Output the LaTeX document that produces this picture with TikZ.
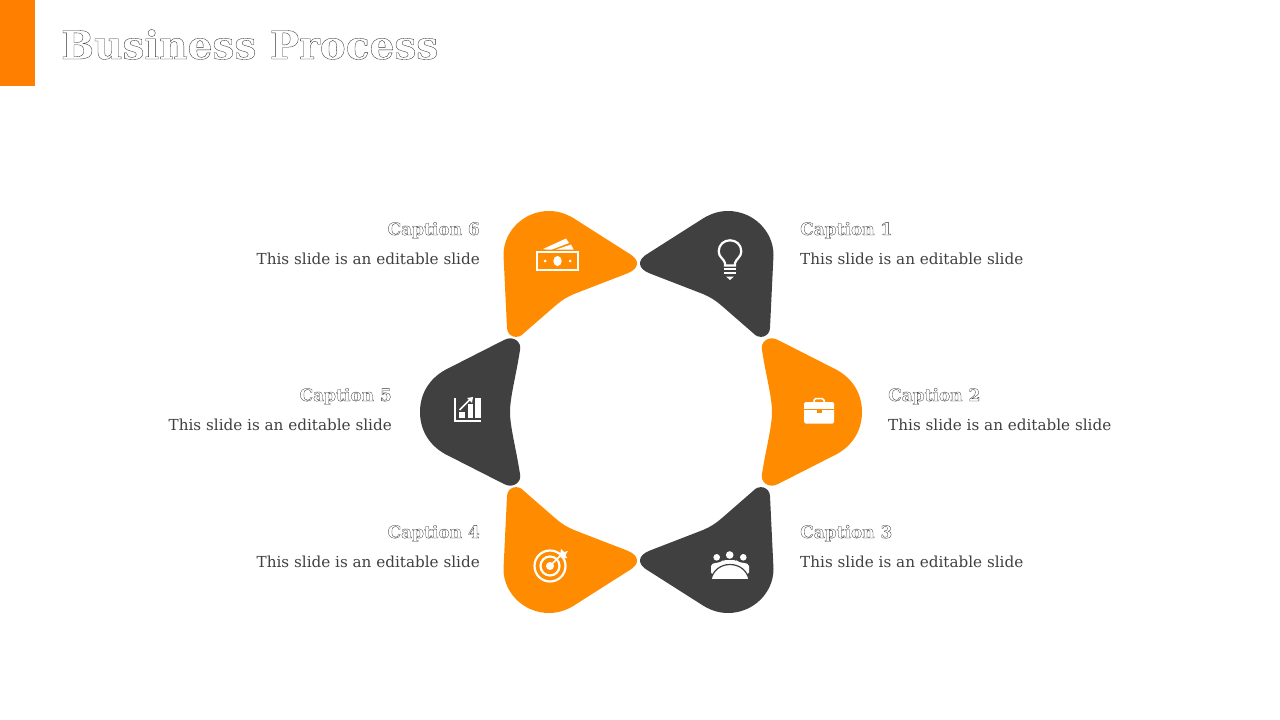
\documentclass[tikz,border=0pt]{standalone}
\usepackage{fontspec}
\setmainfont{DejaVu Serif}
\usetikzlibrary{calc,positioning}
\definecolor{lobeorange}{HTML}{FF8C00}
\definecolor{barorange}{HTML}{FF8000}
\definecolor{lobedark}{HTML}{404040}
\newcommand{\outlinetext}[2]{\special{pdf:code 1 Tr #1 w 0.2 G}#2\special{pdf:code 0 Tr 0 G}}
% side lobe, pointing along +x from the centre of the ring
\newcommand{\sidelobe}{(137,-72)--(196,-42) .. controls (212,-33) and (221,-18) .. (221,0) .. controls (221,18) and (212,33) .. (196,42)--(137,72) .. controls (128,77) and (119,70) .. (121,62) .. controls (125,36) and (131,15) .. (131,0) .. controls (131,-15) and (125,-36) .. (121,-62) .. controls (119,-70) and (128,-77) .. (137,-72)--cycle}
% upper right lobe, the other three are its mirror images
\newcommand{\cornerlobe}{(9.8,-158.7)--(64.8,-193.7) .. controls (73.5,-199) and (81.5,-201) .. (89.5,-201) .. controls (114.5,-201) and (135,-181) .. (135,-157)--(131.5,-84) .. controls (131,-75) and (120.5,-72) .. (114.5,-79)--(83.5,-106) .. controls (76.5,-112) and (71.5,-115) .. (64.5,-118)--(11.5,-138.5) .. controls (-0.5,-143) and (-2.5,-152) .. (9.8,-158.7)--cycle}
\tikzset{
  captionnode/.style={inner sep=0pt,font=\fontsize{17}{20}\selectfont\bfseries},
  slidetext/.style={inner sep=0pt,text=lobedark,font=\fontsize{15.2}{18}\selectfont},
  iconline/.style={draw=white,line width=2.2pt}
}
\begin{document}
\begin{tikzpicture}[x=1pt,y=-1pt]
  \useasboundingbox (0,0) rectangle (1280,720);
  \fill[barorange] (0,0) rectangle (35,86);
  \node[anchor=base west,inner sep=0pt,font=\fontsize{39}{44}\selectfont\bfseries] (title) at (61,59) {\outlinetext{0.35}{Business Process}};

  % lobes
  \fill[lobedark,shift={(638.5,412)}] \cornerlobe;
  \fill[lobeorange,shift={(641,412)}] \sidelobe;
  \fill[lobedark,shift={(638.5,412)},yscale=-1] \cornerlobe;
  \fill[lobeorange,shift={(638.5,412)},xscale=-1,yscale=-1] \cornerlobe;
  \fill[lobedark,shift={(641,412)},rotate=180] \sidelobe;
  \fill[lobeorange,shift={(638.5,412)},xscale=-1] \cornerlobe;

  % captions
  \node[captionnode,anchor=base west] (cap1) at (800,235) {\outlinetext{0.3}{Caption 1}};
  \node[slidetext,anchor=base west] (txt1) at (800,264) {This slide is an editable slide};
  \node[captionnode,anchor=base west] (cap2) at (888,401) {\outlinetext{0.3}{Caption 2}};
  \node[slidetext,anchor=base west] (txt2) at (888,430) {This slide is an editable slide};
  \node[captionnode,anchor=base west] (cap3) at (800,538) {\outlinetext{0.3}{Caption 3}};
  \node[slidetext,anchor=base west] (txt3) at (800,567) {This slide is an editable slide};
  \node[captionnode,anchor=base east] (cap4) at (480,538) {\outlinetext{0.3}{Caption 4}};
  \node[slidetext,anchor=base east] (txt4) at (480,567) {This slide is an editable slide};
  \node[captionnode,anchor=base east] (cap5) at (392,401) {\outlinetext{0.3}{Caption 5}};
  \node[slidetext,anchor=base east] (txt5) at (392,430) {This slide is an editable slide};
  \node[captionnode,anchor=base east] (cap6) at (480,235) {\outlinetext{0.3}{Caption 6}};
  \node[slidetext,anchor=base east] (txt6) at (480,264) {This slide is an editable slide};

  % money
  \draw[iconline] (537,252) rectangle (578,270);
  \fill[white] (557.5,261) ellipse (4.2 and 5);
  \fill[white] (545,261) circle (1.5);
  \fill[white] (570,261) circle (1.5);
  \fill[white] (543,249)--(566,238.5)--(569,243)--(552,249.5)--(546,249.5)--cycle;
  \fill[white] (556,249.5)--(571,244.5)--(573.5,249.5)--cycle;
  % bulb
  \draw[iconline] (725,265.5)--(725,263) .. controls (724,259) and (718.7,257) .. (718.7,251.5) .. controls (718.7,244.5) and (724,240.3) .. (730,240.3) .. controls (736,240.3) and (741.3,244.5) .. (741.3,251.5) .. controls (741.3,257) and (736,259) .. (735,263)--(735,265.5)--cycle;
  \draw[white,line width=2pt] (724,268.5)--(736,268.5);
  \draw[white,line width=2pt] (724,273)--(736,273);
  \fill[white] (726,276.5)--(734,276.5)--(730,280)--cycle;
  % chart
  \draw[iconline] (455,398)--(455,421)--(481,421);
  \fill[white] (459,412) rectangle (465,418);
  \fill[white] (467.5,404) rectangle (473,418);
  \fill[white] (475,398) rectangle (481,418);
  \draw[white,line width=1.5pt] (459.5,410)--(470,399.5);
  \fill[white] (473,397)--(467,398)--(472,403)--cycle;
  % briefcase
  \fill[white,rounded corners=1.5pt] (804,402) rectangle (834,423.5);
  \draw[white,line width=1.5pt,rounded corners=1.5pt] (814,402)--(814,398.7)--(824,398.7)--(824,402);
  \draw[lobeorange,line width=0.8pt] (804,409)--(834,409);
  \fill[lobeorange] (816.5,408.5) rectangle (821.5,413);
  % target
  \draw[iconline] (550,566) circle (15.5);
  \draw[iconline] (550,566) circle (9.5);
  \fill[white] (550,566) circle (4);
  \draw[white,line width=1.5pt] (550,566)--(562,554);
  \fill[white] (560,555)--(561,549)--(564,552)--(568,551)--(565.5,555)--(567,558)--(561,558)--cycle;
  % people
  \fill[white] (729.7,555) circle (3.8);
  \fill[white] (716.7,557.3) circle (3.3);
  \fill[white] (743.3,557.3) circle (3.3);
  \fill[white,rounded corners=2pt] (711,574)--(711,564)--(722,561.7)--(723.5,560)--(736,560)--(737.5,561.7)--(749,564)--(749,574)--cycle;
  \fill[white,draw=lobedark,line width=1.2pt] (711,579.6) .. controls (713,570) and (721,564.5) .. (730,564.5) .. controls (739,564.5) and (747,570) .. (749,579.6)--cycle;
\end{tikzpicture}
\end{document}
